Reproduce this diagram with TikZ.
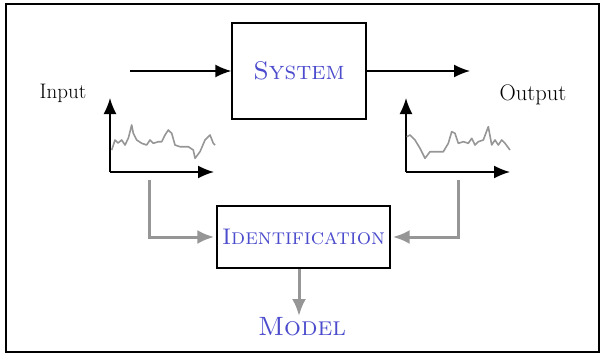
\documentclass[tikz,border=0pt]{standalone}
\usetikzlibrary{arrows.meta}
\definecolor{tblue}{RGB}{75,75,205}
\definecolor{tgray}{RGB}{150,150,150}
\begin{document}
\begin{tikzpicture}[x=1pt,y=-1pt,
  blk/.style={draw=black,line width=1.4pt,inner sep=0pt},
  blab/.style={text=tblue},
  sig/.style={draw=black,line width=1.6pt,-{Latex[length=16pt,width=13pt]}},
  gsig/.style={draw=tgray,line width=3pt,-{Latex[length=17pt,width=14pt]}},
  wave/.style={draw=tgray,line width=1.6pt,line join=round},
  lab/.style={font=\fontsize{21}{24}\selectfont}]
\useasboundingbox (0,0) rectangle (604,356);
\draw[line width=1.3pt] (6,4) rectangle (599,352);
% system
\node[blk,minimum width=134pt,minimum height=96pt] (sys) at (299,71) {};
\node[blab,font=\fontsize{25.5}{28}\selectfont\scshape] (syst) at (sys) {System};
\coordinate (inA) at (130,71);
\coordinate (outB) at (470,71);
\draw[sig] (inA) -- (sys.west);
\draw[sig] (sys.east) -- (outB);
\node[lab] (inlab) at (63,93) {Input};
\node[lab,font=\fontsize{22.5}{25}\selectfont] (outlab) at (533,95) {Output};
% axes left
\coordinate (o1) at (110,172);
\coordinate (y1) at (110,98);
\coordinate (x1) at (214,172);
\draw[sig] (o1) -- (y1);
\draw[sig] (o1) -- (x1);
\coordinate (o2) at (406,172);
\coordinate (y2) at (406,98);
\coordinate (x2) at (510,172);
\draw[sig] (o2) -- (y2);
\draw[sig] (o2) -- (x2);
% waves
\draw[wave] (111.7,150) -- (115,140) -- (118,143) -- (121.7,140) -- (125,145) -- (128.3,138.3) -- (131.7,125) -- (133.3,133.3) -- (136.7,140) -- (141.7,143.3) -- (146.7,145) -- (150,140) -- (153.3,143.3) -- (158.3,141.7) -- (161.7,141.7) -- (165,135) -- (168.3,130) -- (171.7,133.3) -- (175,145) -- (180,146.7) -- (188.3,146.7) -- (193.3,150) -- (195,158.3) -- (200,151.7) -- (205,140) -- (210,135) -- (213.3,143.3) -- (215,145);
\draw[wave] (406.7,136.7) -- (410,135) -- (415,140) -- (420,148.3) -- (425,158.3) -- (430,151.7) -- (436.7,151.7) -- (443.3,151.7) -- (448.3,143.3) -- (451.7,131.7) -- (455,133.3) -- (458.3,143.3) -- (463.3,141.7) -- (468.3,143.3) -- (471.7,138.3) -- (475,145) -- (478.3,141.7) -- (483.3,140) -- (488.3,126.7) -- (491.7,145) -- (495,140) -- (498.3,145) -- (501.7,140) -- (505,143.3) -- (510,150);
% identification
\node[blk,minimum width=173pt,minimum height=62pt] (ident) at (303.5,237) {};
\node[blab,font=\fontsize{22.6}{24}\selectfont\scshape] (identt) at (ident) {Identification};
\coordinate (l1) at (149,180);
\coordinate (r1) at (458,180);
\draw[gsig] (l1) |- ([xshift=-2pt]ident.west);
\draw[gsig] (r1) |- ([xshift=2pt]ident.east);
\node[blab,font=\fontsize{26.5}{28}\selectfont\scshape] (model) at (302,327) {Model};
\draw[gsig] (ident.south -| 299,0) -- (299,316);
\end{tikzpicture}
\end{document}
